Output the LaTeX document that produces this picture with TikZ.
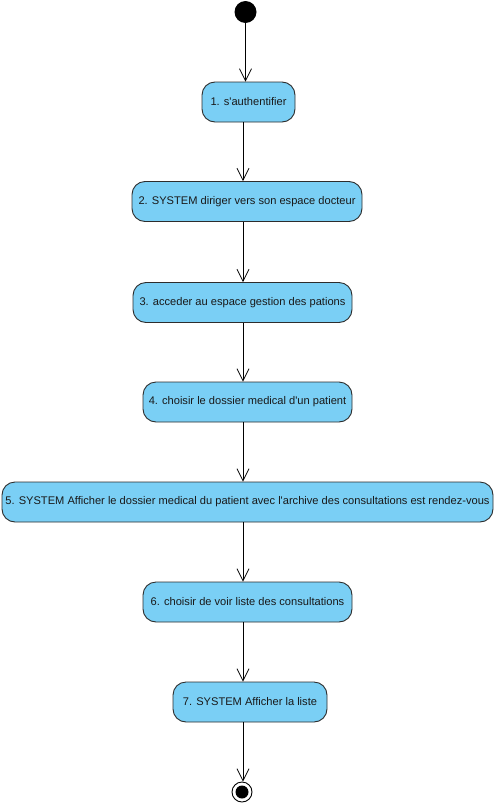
\documentclass[tikz,border=0pt]{standalone}
\usepackage{fontspec}
\setmainfont{Liberation Sans}
\usetikzlibrary{arrows.meta}
\definecolor{actfill}{RGB}{122,207,245}
\definecolor{actline}{RGB}{45,45,45}
\tikzset{
  act/.style={draw=actline, fill=actfill, line width=0.9pt, rounded corners=13pt,
    minimum height=40pt, inner sep=0pt, font=\fontsize{11.1}{13}\selectfont, text=black!90},
  flow/.style={draw=black, line width=0.8pt, -{Straight Barb[length=12pt,width=12pt,line width=0.8pt]}},
}
\begin{document}
\begin{tikzpicture}[x=1pt,y=-1pt]
\useasboundingbox (0,0) rectangle (496,806);
\node[circle, fill=black, minimum size=22pt, inner sep=0pt] (start) at (245.5,12) {};
\node[act, minimum width=93pt] (b1) at (248.5,102) {1. s\textquotesingle authentifier};
\node[act, minimum width=230pt] (b2) at (247,201.5) {2. SYSTEM diriger vers son espace docteur};
\node[act, minimum width=219pt] (b3) at (242.5,302.5) {3. acceder au espace gestion des pations};
\node[act, minimum width=209pt] (b4) at (247.5,402) {4. choisir le dossier medical d\textquotesingle un patient};
\node[act, minimum width=491pt] (b5) at (247.5,502) {5. SYSTEM Afficher le dossier medical du patient avec l\textquotesingle archive des consultations est rendez-vous};
\node[act, minimum width=209pt] (b6) at (247.5,602) {6. choisir de voir liste des consultations};
\node[act, minimum width=154pt] (b7) at (250,702) {7. SYSTEM Afficher la liste};
\node[circle, draw=black, line width=0.9pt, fill=white, minimum size=20pt, inner sep=0pt] (end) at (242,792) {};
\node[circle, fill=black, minimum size=13pt, inner sep=0pt] at (end) {};
\coordinate (lx) at (243,0);
\draw[flow] (start) -- (b1.north -| start);
\draw[flow] (b1.south -| lx) -- (b2.north -| lx);
\draw[flow] (b2.south -| lx) -- (b3.north -| lx);
\draw[flow] (b3.south -| lx) -- (b4.north -| lx);
\draw[flow] (b4.south -| lx) -- (b5.north -| lx);
\draw[flow] (b5.south -| lx) -- (b6.north -| lx);
\draw[flow] (b6.south -| lx) -- (b7.north -| lx);
\draw[flow] (b7.south -| lx) -- (end.north -| lx);
\end{tikzpicture}
\end{document}
